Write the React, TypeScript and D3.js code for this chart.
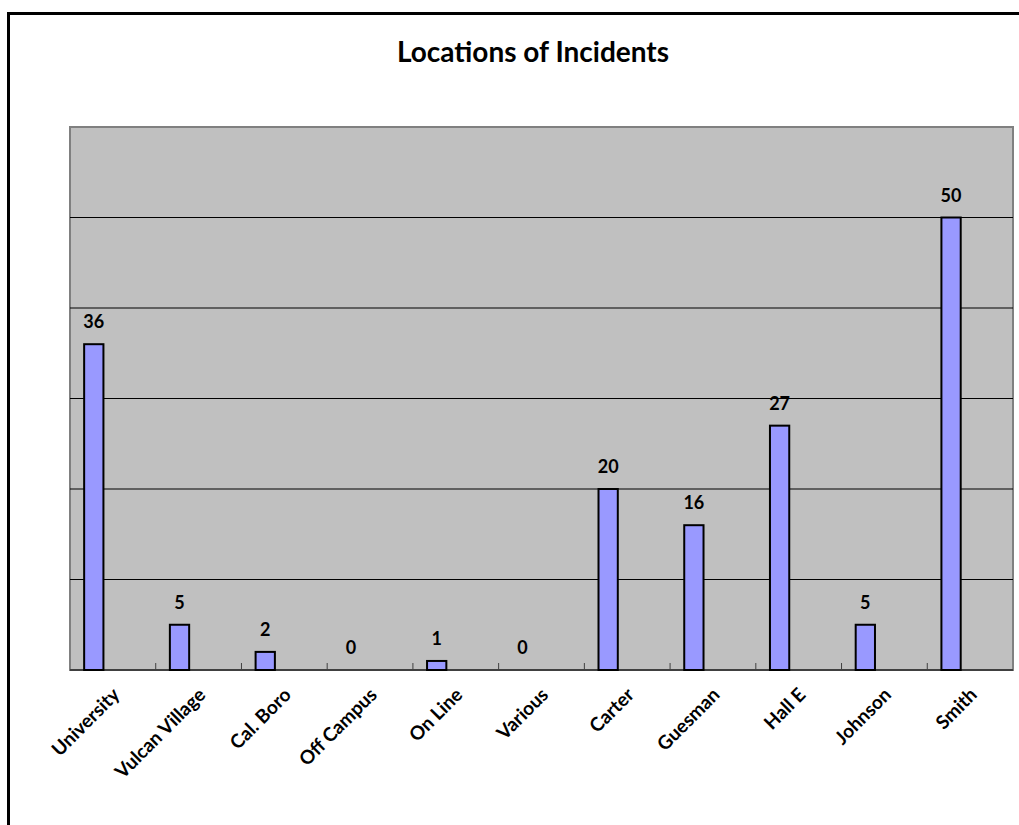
import * as d3 from 'd3';
import React from 'react';

const categories = ['University', 'Vulcan Village', 'Cal. Boro', 'Off Campus', 'On Line', 'Various', 'Carter', 'Guesman', 'Hall E', 'Johnson', 'Smith'];
const incidents = [36, 5, 2, 0, 1, 0, 20, 16, 27, 5, 50];
const gridTicks = [10, 20, 30, 40, 50];

const App = () => {
    const width = 1019;
    const height = 825;
    const plot = { left: 70, top: 127, right: 1013, bottom: 670 };
    const font = 'Lato, "Open Sans", sans-serif';

    const x = d3.scaleBand<string>().domain(categories).range([plot.left, plot.right]).padding(0);
    const y = d3.scaleLinear().domain([0, 60]).range([plot.bottom, plot.top]);
    const bw = x.bandwidth();
    const barOffset = bw * 0.165;
    const barWidth = bw * 0.225;

    return (
        <svg width={width} height={height} style={{ position: 'absolute', left: 0, top: 0 }}>
            <rect x={0} y={0} width={width} height={height} fill="#fff" />
            <rect x={8.5} y={13.5} width={width + 20} height={height + 20} fill="none" stroke="#000" strokeWidth={3} />
            <text x={533} y={62} textAnchor="middle" fontFamily={font} fontWeight="bold" fontSize={28}>
                Locations of Incidents
            </text>
            <rect
                x={plot.left}
                y={plot.top}
                width={plot.right - plot.left}
                height={plot.bottom - plot.top}
                fill="#c0c0c0"
                stroke="#808080"
                strokeWidth={2}
            />
            {gridTicks.map((t) => (
                <line key={t} x1={plot.left} x2={plot.right} y1={y(t)} y2={y(t)} stroke="#000" strokeWidth={1} />
            ))}
            {categories.slice(1).map((c) => (
                <line key={c} x1={x(c)!} x2={x(c)!} y1={plot.bottom} y2={plot.bottom - 7} stroke="#404040" strokeWidth={1} />
            ))}
            <line x1={plot.left} x2={plot.right} y1={plot.bottom} y2={plot.bottom} stroke="#404040" strokeWidth={2} />
            {categories.map((c, i) => {
                const v = incidents[i];
                const bx = x(c)! + barOffset;
                return (
                    <g key={c}>
                        {v > 0 && (
                            <rect x={bx} y={y(v)} width={barWidth} height={y(0) - y(v)} fill="#9999ff" stroke="#000" strokeWidth={2} />
                        )}
                        <text
                            x={bx + barWidth / 2}
                            y={y(v) - 16}
                            textAnchor="middle"
                            fontFamily={font}
                            fontWeight="bold"
                            fontSize={18}
                        >
                            {v}
                        </text>
                        <text
                            transform={`translate(${x(c)! + bw / 2 + 8},${plot.bottom + 26}) rotate(-45)`}
                            textAnchor="end"
                            fontFamily={font}
                            fontWeight="bold"
                            fontSize={19}
                        >
                            {c}
                        </text>
                    </g>
                );
            })}
        </svg>
    );
};

export default App;
